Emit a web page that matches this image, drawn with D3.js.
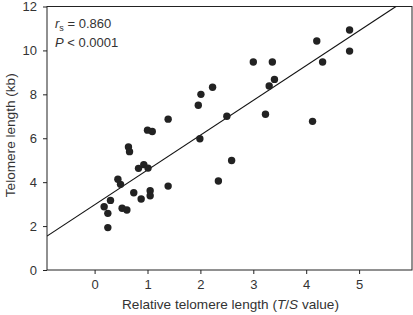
<!DOCTYPE html>
<html>
<head>
<meta charset="utf-8">
<script src="https://cdn.jsdelivr.net/npm/d3@7"></script>
<style>
  html, body { margin: 0; padding: 0; background: #fff; }
  svg { display: block; font-family: "Liberation Sans", Arial, sans-serif; }
</style>
</head>
<body>
<svg id="chart" width="413" height="315"></svg>
<script>
// relative telomere length (T/S)
const tsValues = [0.18, 0.25, 0.25, 0.30, 0.44, 0.49, 0.52, 0.61, 0.64, 0.66,
  0.74, 0.83, 0.88, 0.93, 1.00, 1.01, 1.05, 1.05, 1.09, 1.39,
  1.39, 1.96, 2.01, 1.99, 2.23, 2.34, 2.50, 2.59, 3.00, 3.23,
  3.30, 3.36, 3.40, 4.12, 4.20, 4.31, 4.82, 4.82];
// telomere length (kb)
const kbValues = [2.88, 2.58, 1.93, 3.17, 4.13, 3.90, 2.81, 2.73, 5.60, 5.39,
  3.52, 4.63, 3.23, 4.80, 6.37, 4.64, 3.61, 3.38, 6.31, 6.87,
  3.82, 7.50, 8.00, 5.98, 8.32, 4.05, 7.00, 4.99, 9.47, 7.09,
  8.38, 9.47, 8.68, 6.77, 10.43, 9.47, 10.93, 9.97];
const xTicks = [0, 1, 2, 3, 4, 5];
const yTicks = [0, 2, 4, 6, 8, 10, 12];
const fitLine = { intercept: 2.97, slope: 1.585 };

const svg = d3.select('#chart');
const pad = { left: 47, right: 412, top: 6.5, bottom: 270 };

const x = d3.scaleLinear().domain([-0.9, 6.0]).range([pad.left, pad.right]);
const y = d3.scaleLinear().domain([0, 12]).range([pad.bottom, pad.top]);

const axisColor = '#222';
const textColor = '#333';

// frame
svg.append('rect')
  .attr('x', pad.left).attr('y', pad.top)
  .attr('width', pad.right - pad.left).attr('height', pad.bottom - pad.top)
  .attr('fill', 'none').attr('stroke', axisColor).attr('stroke-width', 1);

// x axis
const xAxis = svg.append('g')
  .attr('transform', `translate(0,${pad.bottom})`)
  .call(d3.axisBottom(x).tickValues(xTicks).tickSize(4).tickPadding(6).tickFormat(d3.format('d')));
xAxis.select('.domain').remove();
xAxis.selectAll('line').attr('stroke', axisColor);
xAxis.selectAll('text').attr('font-size', 13).attr('fill', textColor)
  .attr('font-family', '"Liberation Sans", Arial, sans-serif');

// y axis
const yAxis = svg.append('g')
  .attr('transform', `translate(${pad.left},0)`)
  .call(d3.axisLeft(y).tickValues(yTicks).tickSize(4).tickPadding(6).tickFormat(d3.format('d')));
yAxis.select('.domain').remove();
yAxis.selectAll('line').attr('stroke', axisColor);
yAxis.selectAll('text').attr('font-size', 13).attr('fill', textColor)
  .attr('font-family', '"Liberation Sans", Arial, sans-serif');

// regression line, clipped to plot area
svg.append('clipPath').attr('id', 'plot-clip')
  .append('rect').attr('x', pad.left).attr('y', pad.top)
  .attr('width', pad.right - pad.left).attr('height', pad.bottom - pad.top);

const xEnd = (12 - fitLine.intercept) / fitLine.slope;
svg.append('line')
  .attr('clip-path', 'url(#plot-clip)')
  .attr('x1', x(-0.9)).attr('y1', y(fitLine.intercept + fitLine.slope * -0.9))
  .attr('x2', x(xEnd)).attr('y2', y(12))
  .attr('stroke', '#111').attr('stroke-width', 1.1);

// points
svg.append('g')
  .selectAll('circle')
  .data(tsValues.map((v, i) => ({ ts: v, kb: kbValues[i] })))
  .enter()
  .append('circle')
  .attr('cx', d => x(d.ts))
  .attr('cy', d => y(d.kb))
  .attr('r', 3.7)
  .attr('fill', '#222');

// stats
const stats = svg.append('g').attr('fill', textColor).attr('font-size', 13);
const t1 = stats.append('text').attr('x', 55).attr('y', 28);
t1.append('tspan').attr('font-style', 'italic').text('r');
t1.append('tspan').attr('font-size', 9).attr('dy', 3).text('s');
t1.append('tspan').attr('dy', -3).text(' = 0.860');
const t2 = stats.append('text').attr('x', 55).attr('y', 47);
t2.append('tspan').attr('font-style', 'italic').text('P');
t2.append('tspan').text(' < 0.0001');

// axis titles
const xt = svg.append('text')
  .attr('x', (pad.left + pad.right) / 2 + 1).attr('y', 309)
  .attr('text-anchor', 'middle').attr('font-size', 13.6).attr('fill', textColor);
xt.append('tspan').text('Relative telomere length (');
xt.append('tspan').attr('font-style', 'italic').text('T');
xt.append('tspan').text('/');
xt.append('tspan').attr('font-style', 'italic').text('S');
xt.append('tspan').text(' value)');

svg.append('text')
  .attr('transform', `translate(15,${(pad.top + pad.bottom) / 2 - 3}) rotate(-90)`)
  .attr('text-anchor', 'middle').attr('font-size', 13.6).attr('fill', textColor)
  .text('Telomere length (kb)');
</script>
</body>
</html>
